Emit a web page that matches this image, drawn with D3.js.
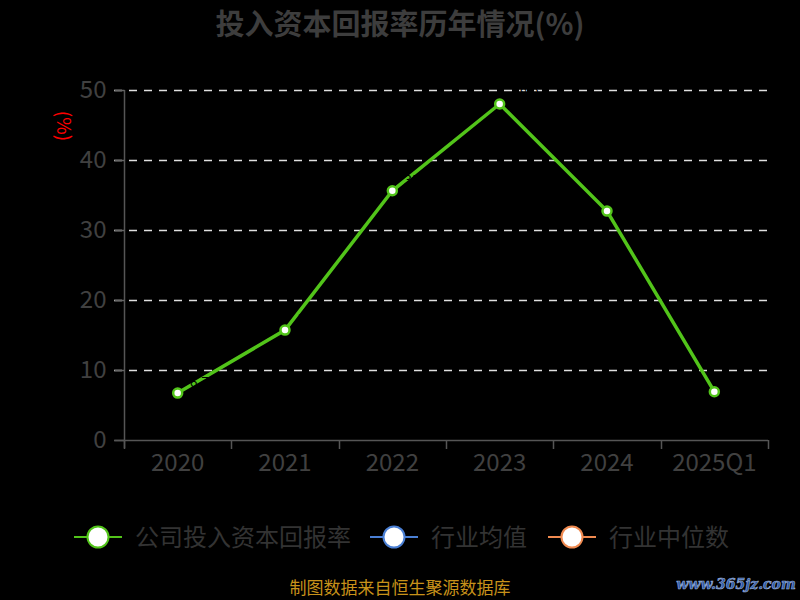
<!DOCTYPE html>
<html><head><meta charset="utf-8">
<script src="https://cdn.jsdelivr.net/npm/d3@7/dist/d3.min.js"></script>
<style>body{margin:0;background:#000}svg{display:block}</style>
</head><body><svg id="c" width="800" height="600"></svg>
<script>
const categories = ["2020","2021","2022","2023","2024","2025Q1"];
const values = [6.7, 15.7, 35.6, 48.0, 32.7, 6.9];
const yTicks = [0,10,20,30,40,50];
const legendItems = [
  {name:"公司投入资本回报率", color:"#52c41a"},
  {name:"行业均值", color:"#4a7fd4"},
  {name:"行业中位数", color:"#f08a50"}
];
const FONT = "'Noto Sans CJK SC','Noto Sans',sans-serif";
const svg = d3.select("#c");
svg.append("rect").attr("width",800).attr("height",600).attr("fill","#000");

const x = d3.scaleBand().domain(categories).range([124,768]);
const y = d3.scaleLinear().domain([0,50]).range([440,90]);

svg.append("text").attr("x",400).attr("y",35).attr("text-anchor","middle")
  .attr("font-family",FONT).attr("font-size",29).attr("font-weight","bold")
  .attr("fill","#3d3d3d").text("投入资本回报率历年情况(%)");

// grid
svg.append("g").selectAll("line").data(yTicks.filter(d=>d>0)).join("line")
  .attr("x1",114).attr("x2",768).attr("y1",d=>y(d)+0.5).attr("y2",d=>y(d)+0.5)
  .attr("stroke","#e0e0e0").attr("stroke-width",1.5).attr("stroke-dasharray","8,7");

// y axis
const yAxis = svg.append("g").attr("transform","translate(124.5,0)")
  .call(d3.axisLeft(y).tickValues(yTicks).tickSize(10).tickPadding(8));
yAxis.select(".domain").attr("stroke","#555").attr("stroke-width",1.5).attr("d","M0,90V448");
yAxis.selectAll(".tick line").attr("stroke","#666").attr("stroke-width",1.5);
yAxis.selectAll("text").attr("font-family",FONT).attr("font-size",24).attr("fill","#404040");

// x axis
const xAxis = svg.append("g").attr("transform","translate(0,440.5)")
  .call(d3.axisBottom(x).tickSize(0).tickPadding(13));
xAxis.select(".domain").attr("stroke","#555").attr("stroke-width",1.5).attr("d","M114,0H768");
xAxis.selectAll("text").attr("font-family",FONT).attr("font-size",24).attr("fill","#404040");
const bounds = categories.map(c=>x(c)).concat([x.range()[1]]);
svg.append("g").selectAll("line").data(bounds).join("line")
  .attr("x1",d=>Math.round(d)+0.5).attr("x2",d=>Math.round(d)+0.5)
  .attr("y1",440).attr("y2",449).attr("stroke","#555").attr("stroke-width",1.5);

// y axis unit
svg.append("text").attr("transform","translate(57,126) rotate(90)")
  .attr("text-anchor","middle").attr("font-family",FONT).attr("font-size",19)
  .attr("fill","#ff0000").text("(%)");

// line
const cx = d=>x(d)+x.bandwidth()/2;
const line = d3.line().x((d,i)=>cx(categories[i])).y(d=>y(d));
svg.append("path").datum(values).attr("d",line).attr("fill","none")
  .attr("stroke","#52c41a").attr("stroke-width",3.5);
// labels (black, mostly invisible)
svg.append("g").selectAll("text").data(values).join("text")
  .attr("x",(d,i)=>cx(categories[i])+12).attr("y",d=>y(d)-6)
  .attr("font-family",FONT).attr("font-size",14).attr("fill","#000")
  .text(d=>d.toFixed(1));
svg.append("g").selectAll("circle").data(values).join("circle")
  .attr("cx",(d,i)=>cx(categories[i])).attr("cy",d=>y(d)).attr("r",4.5)
  .attr("fill","#fff").attr("stroke","#52c41a").attr("stroke-width",2.5);

// legend
const legX = [74, 370, 548];
const lg = svg.append("g").selectAll("g").data(legendItems).join("g")
  .attr("transform",(d,i)=>`translate(${legX[i]},537)`);
lg.append("line").attr("x1",0).attr("x2",48).attr("stroke",d=>d.color).attr("stroke-width",2);
lg.append("circle").attr("cx",24).attr("r",10.5).attr("fill","#fff")
  .attr("stroke",d=>d.color).attr("stroke-width",2);
lg.append("text").attr("x",61).attr("y",9).attr("font-family",FONT).attr("font-size",24)
  .attr("fill","#333").text(d=>d.name);

// footer
svg.append("text").attr("x",400).attr("y",594).attr("text-anchor","middle")
  .attr("font-family",FONT).attr("font-size",17).attr("fill","#c8921a")
  .text("制图数据来自恒生聚源数据库");
svg.append("text").attr("x",736).attr("y",589).attr("text-anchor","middle")
  .attr("font-family","'DejaVu Serif',serif").attr("font-size",14).attr("font-weight","bold")
  .attr("font-style","italic").attr("fill","#2f5aa8").attr("stroke","#9ab0d8").attr("stroke-width",0.6)
  .text("www.365jz.com");
</script></body></html>
